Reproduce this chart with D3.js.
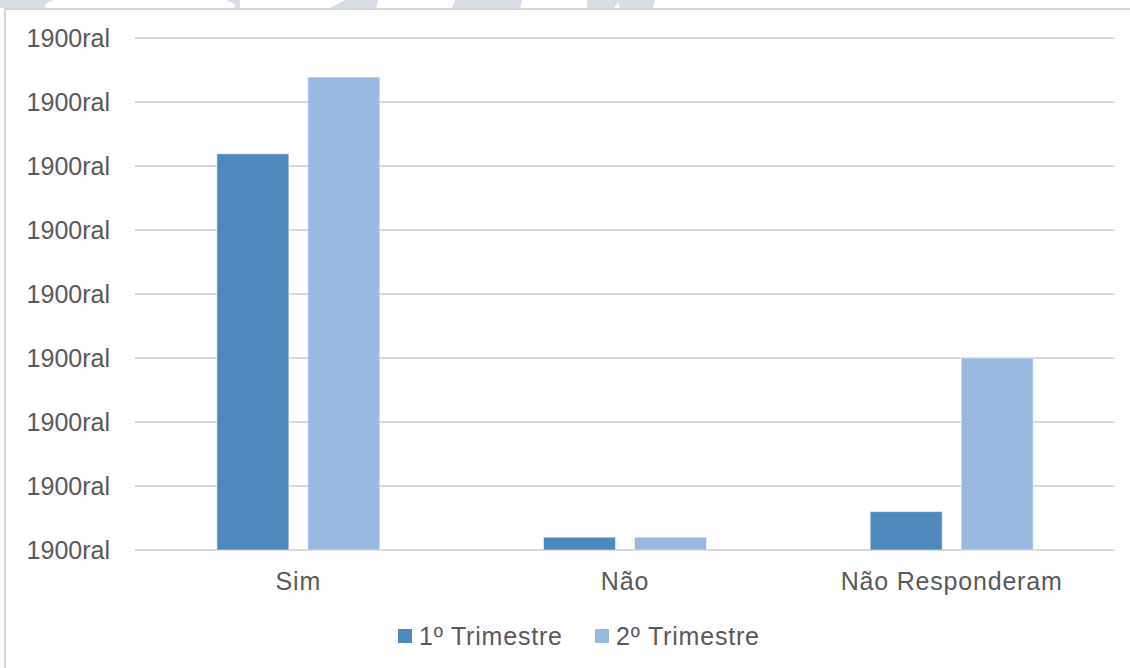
<!DOCTYPE html>
<html>
<head>
<meta charset="utf-8">
<script src="https://cdn.jsdelivr.net/npm/d3@7"></script>
<style>
	body { margin: 0; background: #fff; }
	svg text { font-family: 'Liberation Sans', Arial, sans-serif; fill: #595959; }
</style>
</head>
<body>
<div id="chart"></div>
<script>
/*globals d3*/
'use strict';

const categories = ['Sim', 'Não', 'Não Responderam'];
const seriesNames = ['1º Trimestre', '2º Trimestre'];
const trim1 = [6.19, 0.2, 0.6];
const trim2 = [7.39, 0.2, 3.0];
const tickValues = [0, 1, 2, 3, 4, 5, 6, 7, 8];
const tickLabel = '1900ral';

const colors = ['#4f89bc', '#97b8df'];
const gridColor = '#d9d9d9';
const width = 1130;
const height = 668;
let margin = { top: 38, bottom: 118, left: 135, right: 15 };

let svg = d3.select('#chart').append('svg')
	.attr('width', width)
	.attr('height', height);

// watermark bits above the frame
const wm = '#d7dce6';
svg.append('path').attr('fill', wm)
	.attr('d', 'M0,0 L240,0 L240,8 L0,8 Z');
svg.append('ellipse').attr('fill', '#fff')
	.attr('cx', 140).attr('cy', 6).attr('rx', 95).attr('ry', 14);
svg.append('path').attr('fill', wm)
	.attr('d', 'M345,0 L378,0 L376,8 L330,8 Z');
svg.append('path').attr('fill', wm)
	.attr('d', 'M455,0 L522,0 L520,8 L452,8 Z');
svg.append('path').attr('fill', wm)
	.attr('d', 'M587,0 L655,0 L653,8 L620,8 L618,2 L614,8 L587,8 Z');

// outer frame
svg.append('path')
	.attr('d', 'M5,' + height + ' L5,9 L' + width + ',9')
	.attr('fill', 'none')
	.attr('stroke', '#d4d4d4')
	.attr('stroke-width', 2);

const innerW = width - margin.left - margin.right;
const innerH = height - margin.top - margin.bottom;

let g = svg.append('g')
	.attr('transform', 'translate(' + margin.left + ',' + margin.top + ')');

let y = d3.scaleLinear().domain([0, 8]).range([innerH, 0]);
let x0 = d3.scaleBand().domain(categories).range([0, innerW]).padding(0);
let x1 = d3.scaleBand().domain(seriesNames).range([0, x0.bandwidth()])
	.paddingInner(0.209).paddingOuter(0.9);

// gridlines
g.append('g').selectAll('line')
	.data(tickValues)
	.join('line')
	.attr('x1', 0).attr('x2', innerW)
	.attr('y1', d => y(d)).attr('y2', d => y(d))
	.attr('stroke', gridColor)
	.attr('stroke-width', 2);

// y tick labels
g.append('g').selectAll('text')
	.data(tickValues)
	.join('text')
	.attr('x', -25)
	.attr('y', d => y(d) + 9)
	.attr('text-anchor', 'end')
	.style('font-size', '25px')
	.text(tickLabel);

// bars
const data = categories.map((c, i) => ({ cat: c, vals: [trim1[i], trim2[i]] }));
let groups = g.append('g').selectAll('g')
	.data(data)
	.join('g')
	.attr('transform', d => 'translate(' + x0(d.cat) + ',0)');
groups.selectAll('rect')
	.data(d => d.vals.map((v, j) => ({ name: seriesNames[j], v: v, j: j })))
	.join('rect')
	.attr('x', d => x1(d.name))
	.attr('width', x1.bandwidth())
	.attr('y', d => y(d.v))
	.attr('height', d => y(0) - y(d.v))
	.attr('fill', d => colors[d.j])
	.attr('stroke', '#fff')
	.attr('stroke-opacity', 0.5)
	.attr('stroke-width', 1);

// category labels
g.append('g').selectAll('text')
	.data(categories)
	.join('text')
	.attr('x', d => x0(d) + x0.bandwidth() / 2)
	.attr('y', innerH + 40)
	.attr('text-anchor', 'middle')
	.style('font-size', '25px')
	.style('letter-spacing', '0.8px')
	.text(d => d);

// legend
let legend = svg.append('g').attr('transform', 'translate(398,636)');
const legendX = [0, 197];
seriesNames.forEach((s, i) => {
	legend.append('rect')
		.attr('x', legendX[i]).attr('y', -7)
		.attr('width', 14).attr('height', 14)
		.attr('fill', colors[i]);
	legend.append('text')
		.attr('x', legendX[i] + 21).attr('y', 9)
		.style('font-size', '25px')
		.style('letter-spacing', '0.8px')
		.text(s);
});
</script>
</body>
</html>
